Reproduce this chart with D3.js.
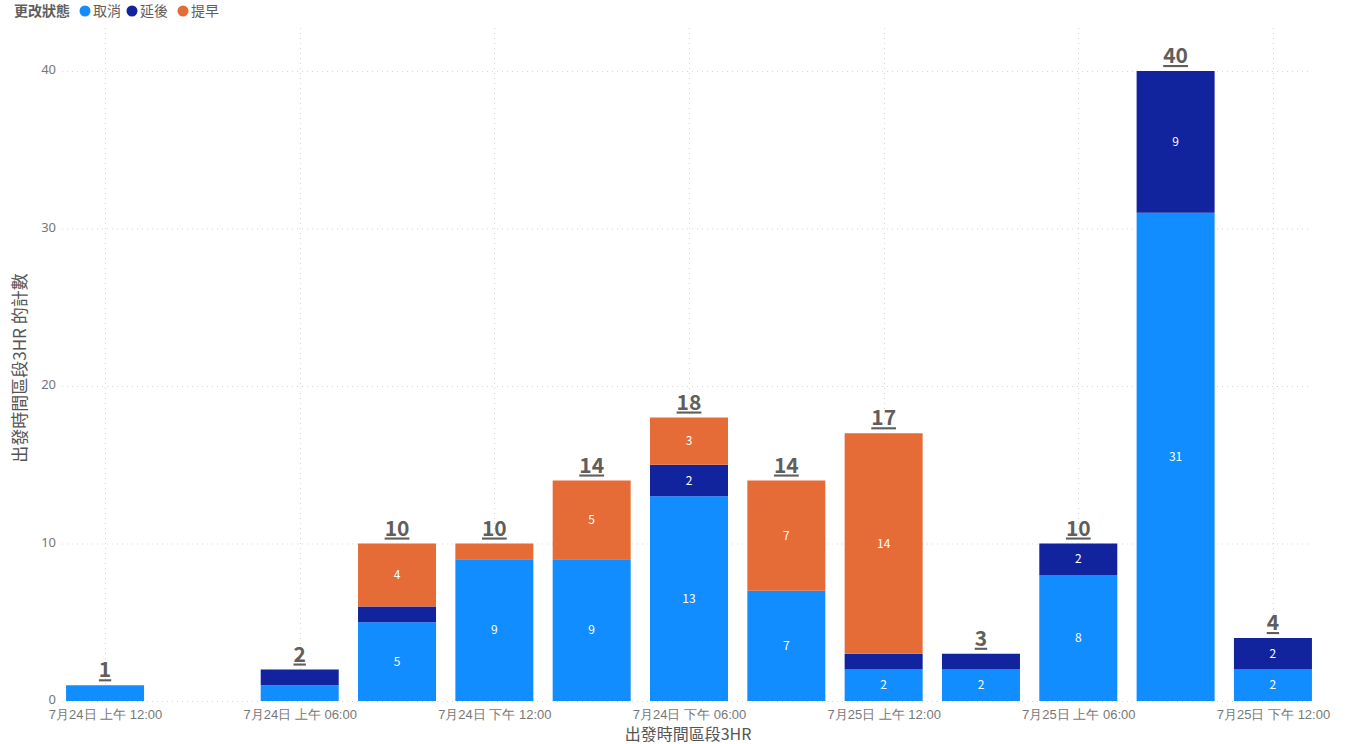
<!DOCTYPE html>
<html>
<head>
<meta charset="utf-8">
<script src="https://d3js.org/d3.v7.min.js"></script>
<style>
body { margin: 0; background: #fff; font-family: "Segoe UI", "Noto Sans CJK TC", "Noto Sans", sans-serif; }
</style>
</head>
<body>
<script>
// 3 hour bins, hours counted from 7/24 00:00
var slotHours = [0, 6, 9, 12, 15, 18, 21, 24, 27, 30, 33, 36];
var cancelled = [1, 1, 5, 9, 9, 13, 7, 2, 2, 8, 31, 2];
var delayed   = [0, 1, 1, 0, 0, 2, 0, 1, 1, 2, 9, 2];
var earlier   = [0, 0, 4, 1, 5, 3, 7, 14, 0, 0, 0, 0];
var seriesNames = ["取消", "延後", "提早"];
var seriesColors = ["#118DFF", "#12239E", "#E66C37"];
var yTicks = [0, 10, 20, 30, 40];

var W = 1366, H = 744;
var svg = d3.select("body").append("svg").attr("width", W).attr("height", H);

var base = new Date(2023, 6, 24, 0, 0);
function hrs(h) { return new Date(base.getTime() + h * 3600000); }

var x = d3.scaleTime()
  .domain([hrs(-1.5), hrs(37.5)])
  .range([56.4, 1321.6]);
var y = d3.scaleLinear().domain([0, 40]).range([701, 71]);
var barW = 78;

var rows = slotHours.map(function(h, i) {
  return { t: hrs(h), "取消": cancelled[i], "延後": delayed[i], "提早": earlier[i] };
});
var stack = d3.stack().keys(seriesNames)(rows);

// grid
var grid = svg.append("g");
grid.selectAll("line.h").data(yTicks).enter().append("line")
  .attr("x1", 62).attr("x2", 1312)
  .attr("y1", function(d) { return y(d) + 0.5; })
  .attr("y2", function(d) { return y(d) + 0.5; })
  .attr("stroke", "#d6d6d6").attr("stroke-dasharray", "1,4");
var xTickHours = [0, 6, 12, 18, 24, 30, 36];
grid.selectAll("line.v").data(xTickHours).enter().append("line")
  .attr("x1", function(d) { return Math.round(x(hrs(d))) + 0.5; })
  .attr("x2", function(d) { return Math.round(x(hrs(d))) + 0.5; })
  .attr("y1", 28).attr("y2", 701)
  .attr("stroke", "#d6d6d6").attr("stroke-dasharray", "1,4");

// y axis labels
var yAxis = d3.axisLeft(y).tickValues(yTicks).tickSize(0).tickPadding(0);
var ya = svg.append("g").attr("transform", "translate(56,0)").call(yAxis);
ya.select(".domain").remove();
ya.selectAll("text").attr("font-size", 13).attr("fill", "#777").attr("dy", "0.2em")
  .attr("font-family", "Segoe UI, Noto Sans, sans-serif");

// x axis labels
function fmt(d) {
  var h = d.getHours();
  var ap = h < 12 ? "上午" : "下午";
  var hh = h % 12 === 0 ? 12 : h % 12;
  return (d.getMonth() + 1) + "月" + d.getDate() + "日 " + ap + " " + d3.format("02")(hh) + ":00";
}
var xAxis = d3.axisBottom(x).tickValues(xTickHours.map(hrs)).tickFormat(fmt).tickSize(0).tickPadding(0);
var xa = svg.append("g").attr("transform", "translate(0,710)").call(xAxis);
xa.select(".domain").remove();
xa.selectAll("text").attr("font-size", 13).attr("fill", "#777").attr("dy", "0.71em");

// bars
var layers = svg.selectAll("g.layer").data(stack).enter().append("g")
  .attr("fill", function(d, i) { return seriesColors[i]; });
layers.selectAll("rect").data(function(d) { return d; }).enter().append("rect")
  .attr("x", function(d) { return x(d.data.t) - barW / 2; })
  .attr("width", barW)
  .attr("y", function(d) { return y(d[1]); })
  .attr("height", function(d) { return y(d[0]) - y(d[1]); });

// inner labels
layers.selectAll("text").data(function(d) { return d.filter(function(s) { return s[1] - s[0] >= 2; }); })
  .enter().append("text")
  .attr("x", function(d) { return x(d.data.t); })
  .attr("y", function(d) { return (y(d[0]) + y(d[1])) / 2; })
  .attr("dy", "0.35em")
  .attr("text-anchor", "middle")
  .attr("fill", "#fff")
  .attr("font-size", 12)
  .text(function(d) { return d[1] - d[0]; });

// totals
var totals = rows.map(function(r, i) { return { t: r.t, v: cancelled[i] + delayed[i] + earlier[i] }; });
svg.append("g").selectAll("text").data(totals).enter().append("text")
  .attr("x", function(d) { return x(d.t); })
  .attr("y", function(d) { return y(d.v) - 8; })
  .attr("text-anchor", "middle")
  .attr("font-size", 21).attr("font-weight", "bold")
  .attr("fill", "#605E5C")
  .attr("text-decoration", "underline")
  .text(function(d) { return d.v; });

// axis titles
svg.append("text").attr("x", 688).attr("y", 740).attr("text-anchor", "middle")
  .attr("font-size", 16).attr("fill", "#555").text("出發時間區段3HR");
svg.append("text").attr("transform", "translate(26,368) rotate(-90)").attr("text-anchor", "middle")
  .attr("font-size", 17).attr("fill", "#555").text("出發時間區段3HR 的計數");

// legend
var lg = svg.append("g").attr("transform", "translate(14,16)");
lg.append("text").attr("x", 0).attr("y", 0).attr("font-size", 14).attr("font-weight", "bold")
  .attr("fill", "#605E5C").text("更改狀態");
var lx = [71, 118, 169];
seriesNames.forEach(function(n, i) {
  lg.append("circle").attr("cx", lx[i]).attr("cy", -5).attr("r", 5.5).attr("fill", seriesColors[i]);
  lg.append("text").attr("x", lx[i] + 8).attr("y", 0).attr("font-size", 14).attr("fill", "#605E5C").text(n);
});
</script>
</body>
</html>
